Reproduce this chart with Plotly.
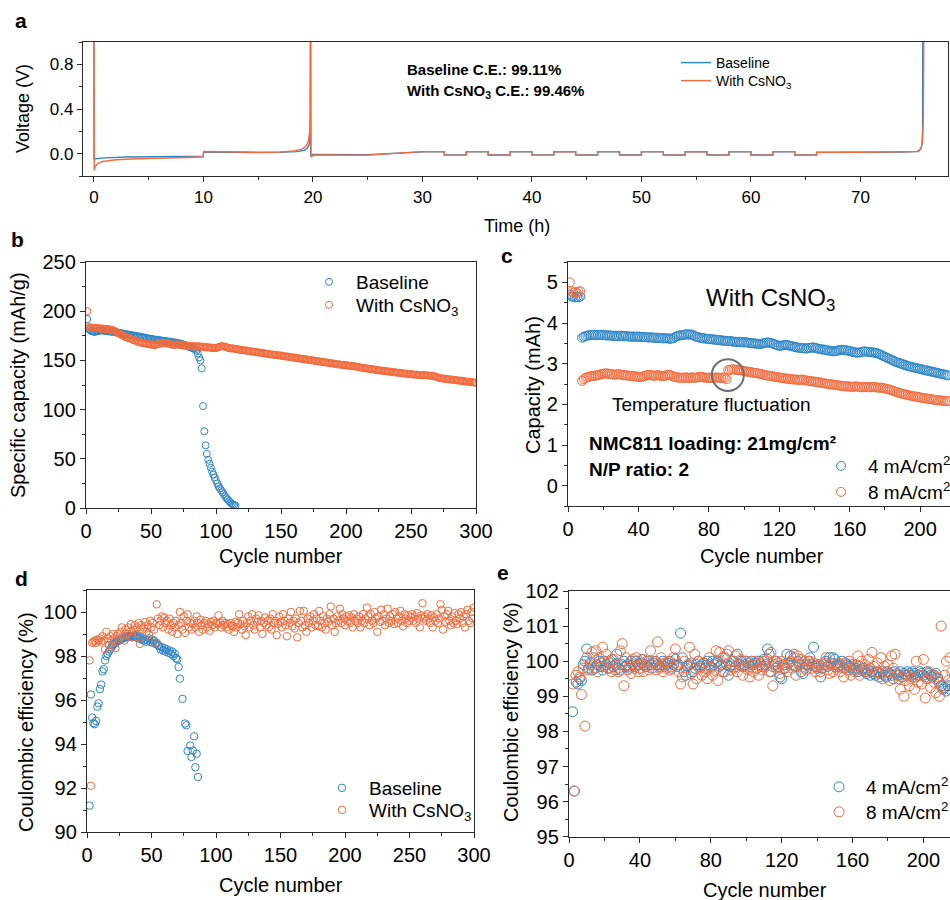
import plotly.graph_objects as go

W, H = 950, 900
BLUE = "#2d86c6"
ORANGE = "#f26b3d"
FONT = "Liberation Sans, Arial, Helvetica, sans-serif"

# ---------------- (a) voltage profiles (Li||Cu, Aurbach protocol) ----------------
base_head_t = [0.0, 0.02, 0.2, 1.0, 3.0, 6.0, 9.98, 10.02, 12.0, 15.0, 17.0, 18.5, 19.2, 19.5, 19.65, 19.72, 19.76, 19.78, 19.8, 20.0, 25.0]
base_head_v = [1.3, -0.05, -0.045, -0.038, -0.03, -0.025, -0.022, 0.015, 0.012, 0.010, 0.012, 0.018, 0.030, 0.050, 0.080, 0.12, 0.20, 1.3, -0.012, -0.008, -0.010]
cs_head_t = [0.0, 0.03, 0.1, 0.3, 0.8, 2.0, 4.0, 7.0, 9.98, 10.02, 12.0, 15.0, 17.0, 18.3, 19.0, 19.4, 19.6, 19.7, 19.75, 19.78, 19.82, 20.1, 25.0]
cs_head_v = [1.3, -0.15, -0.12, -0.09, -0.07, -0.055, -0.045, -0.035, -0.03, 0.020, 0.015, 0.012, 0.015, 0.025, 0.040, 0.070, 0.12, 0.20, 0.35, 1.3, -0.03, -0.012, -0.013]

step_edges = [30, 32, 34, 36, 38, 40, 42, 44, 46, 48, 50, 52, 54, 56, 58, 60, 62, 64, 66]
base_levels = [0.016, -0.011, 0.017, -0.012, 0.017, -0.011, 0.016, -0.012, 0.017,
               -0.012, 0.016, -0.011, 0.017, -0.012, 0.016, -0.012, 0.017, -0.012]
cs_levels = [0.018, -0.013, 0.018, -0.014, 0.018, -0.013, 0.017, -0.014, 0.018,
             -0.013, 0.018, -0.014, 0.017, -0.013, 0.018, -0.014, 0.018, -0.013]

base_tail_t = [66.0, 70.0, 74.0, 75.2, 75.5, 75.62, 75.68, 75.7]
base_tail_v = [0.012, 0.012, 0.015, 0.020, 0.040, 0.080, 0.20, 1.3]
cs_tail_t = [66.0, 70.0, 74.0, 75.3, 75.55, 75.68, 75.75, 75.8]
cs_tail_v = [0.013, 0.013, 0.015, 0.020, 0.050, 0.12, 0.30, 1.3]


def assemble(head_t, head_v, levels, tail_t, tail_v):
    t, v = list(head_t), list(head_v)
    for i, lv in enumerate(levels):
        t += [step_edges[i], step_edges[i + 1]]
        v += [lv, lv]
    return t + tail_t, v + tail_v


a_base_t, a_base_v = assemble(base_head_t, base_head_v, base_levels, base_tail_t, base_tail_v)
a_cs_t, a_cs_v = assemble(cs_head_t, cs_head_v, cs_levels, cs_tail_t, cs_tail_v)

# ---------------- (b) specific capacity vs cycle ----------------
b_base = [192, 182, 181, 180, 179.5, 179, 179, 179.5, 180, 180,
          180.5, 180.5, 180.5, 180, 180, 180, 179.5, 179.5, 179.5, 179,
          179, 179, 178.5, 178.5, 178, 178, 177.5, 177.5, 177, 177,
          176.5, 176.5, 176, 176, 175.5, 175.5, 175, 175, 174.5, 174.5,
          174, 174, 173.5, 173.5, 173, 173, 172.5, 172.5, 172, 172,
          171.5, 171.5, 171, 171, 171, 170.5, 170.5, 170, 170, 170,
          169.5, 169.5, 169, 169, 169, 168.5, 168.5, 168, 168, 168,
          167.5, 167, 167, 166.5, 166, 165.5, 165, 164.5, 164, 163.5,
          163, 162.5, 162, 161, 160, 157, 153, 150, 142,
          103.6, 78, 63.7, 55, 49, 45, 41, 37, 34, 31,
          28, 25, 22, 20, 18, 16, 14, 12, 10, 8.5,
          7, 5.5, 4.5, 3.5, 3, 2.5]
b_cs = [200,
        184, 183.5, 183, 183.5, 183, 183, 182.5, 183, 182.5, 182.5,
        182, 182.5, 182, 182, 181.5, 182, 181.5, 181, 181, 180.5,
        180, 179, 178, 177.5, 177, 176, 175.5, 175, 174, 173.5,
        173, 172.5, 172, 171.5, 171, 170.5, 170, 169.5, 169, 168.5,
        168, 168, 167.5, 167.5, 167, 167, 166.5, 166.5, 166, 166,
        166, 165.5, 166, 166.5, 167, 167.5, 167, 167.5, 168, 167.5,
        167, 167.5, 167, 166.5, 166, 166, 165.5, 166, 166.5, 166,
        166, 165.5, 165.5, 165, 165.5, 165, 165, 164.5, 165, 164.5,
        164.5, 164, 164.5, 164, 164, 164.5, 164, 163.5, 164, 163.5,
        163.5, 163, 163.5, 163, 163, 162.5, 163, 162.5, 162.5, 163,
        163.5, 164, 164.5, 164.5, 164, 164, 163.5, 163, 162.5, 162,
        162.5, 162, 162, 161.5, 161.5, 161, 161, 160.5, 160.5, 160.5,
        160, 160, 160, 159.5, 159.5, 159, 159, 159, 158.5, 158.5,
        158, 158, 158, 157.5, 157.5, 157, 157, 157, 156.5, 156.5,
        156, 156, 156, 155.5, 155.5, 155.5, 155, 155, 155, 154.5,
        154.5, 154, 154, 154, 153.5, 153.5, 153, 153, 153, 152.5,
        152.5, 152, 152, 152, 151.5, 151.5, 151, 151, 151, 150.5,
        150.5, 150, 150, 150, 149.5, 149.5, 149, 149, 149, 148.5,
        148.5, 148, 148, 148, 147.5, 147.5, 147, 147, 147, 146.5,
        146.5, 146, 146, 146, 145.5, 145.5, 145.5, 145, 145, 145,
        144.5, 144.5, 144.5, 144, 144, 144, 143.5, 143.5, 143, 143,
        142.5, 142.5, 142, 142, 142, 141.5, 141.5, 141, 141, 141,
        140.5, 140.5, 140, 140, 140, 139.5, 139.5, 139.5, 139, 139,
        139, 138.5, 138.5, 138.5, 138, 138, 138, 137.5, 137.5, 137.5,
        137, 137, 137, 136.5, 136.5, 136.5, 136, 136, 136, 136,
        135.5, 135.5, 135.5, 135.5, 135, 135, 135, 135, 135, 135,
        135, 134.5, 134.5, 134.5, 134.5, 134, 134, 133.5, 133, 132.5,
        132, 132, 131.5, 131.5, 131.5, 131, 131, 131, 130.5, 130.5,
        130.5, 130, 130, 130, 129.5, 129.5, 129.5, 129, 129, 129,
        128.5, 128.5, 128.5, 128, 128, 128, 127.5, 127.5, 127.5]

# ---------------- (c) high-loading capacity ----------------
c_4ma = [4.70, 4.65, 4.65, 4.63, 4.64, 4.63, 4.65,
         3.64, 3.66, 3.68, 3.69, 3.70, 3.70, 3.71, 3.71, 3.70, 3.71,
         3.70, 3.71, 3.70, 3.70, 3.69, 3.70, 3.69, 3.69, 3.68, 3.69,
         3.68, 3.68, 3.69, 3.68, 3.67, 3.68, 3.67, 3.67, 3.66, 3.67,
         3.66, 3.66, 3.67, 3.66, 3.65, 3.66, 3.65, 3.65, 3.64, 3.65,
         3.64, 3.64, 3.63, 3.64, 3.63, 3.63, 3.62, 3.63, 3.62, 3.62,
         3.61, 3.62, 3.63, 3.66, 3.68, 3.69, 3.70, 3.70, 3.71, 3.72,
         3.72, 3.71, 3.72, 3.70, 3.68, 3.66, 3.65, 3.64, 3.63, 3.62,
         3.62, 3.61, 3.61, 3.60, 3.60, 3.59, 3.59, 3.58, 3.58, 3.57,
         3.57, 3.56, 3.56, 3.55, 3.56, 3.55, 3.54, 3.54, 3.53, 3.54,
         3.53, 3.53, 3.52, 3.53, 3.52, 3.51, 3.51, 3.50, 3.50, 3.49,
         3.49, 3.48, 3.49, 3.50, 3.51, 3.52, 3.52, 3.51, 3.50, 3.48,
         3.47, 3.45, 3.44, 3.44, 3.45, 3.46, 3.46, 3.45, 3.44, 3.43,
         3.42, 3.41, 3.40, 3.39, 3.39, 3.38, 3.38, 3.37, 3.38, 3.39,
         3.39, 3.40, 3.39, 3.38, 3.37, 3.36, 3.35, 3.35, 3.34, 3.33,
         3.32, 3.32, 3.31, 3.30, 3.31, 3.32, 3.33, 3.34, 3.34, 3.33,
         3.33, 3.32, 3.31, 3.30, 3.29, 3.28, 3.27, 3.27, 3.28, 3.29,
         3.30, 3.30, 3.29, 3.29, 3.28, 3.28, 3.27, 3.26, 3.25, 3.23,
         3.21, 3.19, 3.17, 3.15, 3.13, 3.11, 3.09, 3.07, 3.05, 3.03,
         3.02, 3.00, 2.99, 2.97, 2.96, 2.94, 2.93, 2.92, 2.91, 2.90,
         2.89, 2.88, 2.87, 2.86, 2.85, 2.84, 2.83, 2.82, 2.81, 2.80,
         2.79, 2.78, 2.77, 2.76, 2.75, 2.74, 2.73, 2.72, 2.71]
c_8ma = [5.00, 4.78, 4.75, 4.76, 4.74, 4.77, 4.78,
         2.58, 2.62, 2.65, 2.67, 2.68, 2.69, 2.70, 2.70, 2.71, 2.72,
         2.73, 2.74, 2.75, 2.76, 2.76, 2.75, 2.74, 2.74, 2.73, 2.73,
         2.74, 2.74, 2.73, 2.72, 2.72, 2.71, 2.71, 2.70, 2.70, 2.69,
         2.69, 2.68, 2.68, 2.67, 2.68, 2.69, 2.70, 2.72, 2.73, 2.72,
         2.71, 2.70, 2.71, 2.72, 2.71, 2.70, 2.69, 2.70, 2.72, 2.73,
         2.72, 2.70, 2.68, 2.67, 2.66, 2.66, 2.65, 2.65, 2.66, 2.66,
         2.65, 2.65, 2.66, 2.66, 2.65, 2.66, 2.67, 2.68, 2.67, 2.66,
         2.66, 2.65, 2.65, 2.66, 2.65, 2.65, 2.66, 2.66, 2.65, 2.65,
         2.66, 2.65, 2.62, 2.84, 2.85, 2.86, 2.86, 2.85, 2.85, 2.84,
         2.84, 2.83, 2.82, 2.81, 2.80, 2.80, 2.79, 2.78, 2.77, 2.77,
         2.76, 2.75, 2.74, 2.73, 2.72, 2.71, 2.70, 2.70, 2.69, 2.68,
         2.67, 2.67, 2.66, 2.65, 2.65, 2.64, 2.63, 2.63, 2.62, 2.62,
         2.61, 2.61, 2.61, 2.60, 2.60, 2.61, 2.60, 2.59, 2.58, 2.58,
         2.57, 2.56, 2.56, 2.55, 2.54, 2.54, 2.53, 2.52, 2.51, 2.51,
         2.50, 2.49, 2.49, 2.48, 2.48, 2.47, 2.46, 2.46, 2.45, 2.45,
         2.44, 2.44, 2.44, 2.43, 2.43, 2.44, 2.44, 2.43, 2.42, 2.42,
         2.43, 2.43, 2.42, 2.42, 2.42, 2.43, 2.43, 2.42, 2.41, 2.41,
         2.41, 2.40, 2.39, 2.38, 2.37, 2.36, 2.34, 2.33, 2.31, 2.30,
         2.28, 2.27, 2.26, 2.25, 2.24, 2.23, 2.22, 2.21, 2.20, 2.19,
         2.19, 2.18, 2.17, 2.16, 2.15, 2.15, 2.14, 2.13, 2.13, 2.12,
         2.11, 2.11, 2.10, 2.10, 2.09, 2.09, 2.08, 2.08, 2.08]

# ---------------- (d) Coulombic efficiency, low loading ----------------
d_base = [91.2, 96.25, 95.2, 94.95, 94.9, 95.05, 95.7, 95.85, 96.5, 96.7,
          97.3, 97.4, 97.8, 98.0, 98.1, 98.2, 98.3, 98.4, 98.5, 98.55,
          98.6, 98.65, 98.7, 98.7, 98.75, 98.8, 98.8, 98.85, 98.85, 98.9,
          98.85, 98.9, 98.9, 98.85, 98.9, 98.95, 98.85, 98.9, 98.8, 98.85,
          98.75, 98.8, 98.7, 98.75, 98.65, 98.7, 98.8, 98.65, 98.75, 98.6,
          98.7, 98.55, 98.6, 98.5, 98.45, 98.3, 98.4, 98.25, 98.35, 98.2,
          98.3, 98.15, 98.25, 98.1, 98.2, 98.0, 98.1, 97.9, 97.85, 97.5,
          96.97, 96.05, 94.93, 94.85, 93.68, 93.93, 93.41, 93.7, 94.35, 92.94,
          93.56, 92.5]
d_base_cycles = list(range(2, 2 + 71)) + [74, 76, 77, 78, 80, 81, 82, 83, 84, 85, 86, 87, 88][:len(d_base) - 71]
d_cs = [97.8, 92.1, 98.6, 98.65, 98.7, 98.6, 98.75, 98.7, 98.8, 98.65,
        98.9, 98.7, 98.3, 99.1, 98.8, 98.5, 98.9, 98.7, 99.0, 98.8,
        98.35, 98.9, 99.0, 98.75, 99.1, 99.3, 98.9, 98.7, 99.2, 99.0,
        99.3, 99.1, 99.45, 98.85, 99.2, 99.4, 99.0, 99.3, 99.5, 98.55,
        99.4, 99.2, 99.3, 99.55, 99.1, 99.4, 98.95, 99.6, 99.3, 99.5,
        99.2, 98.6, 100.35, 99.7, 99.4, 99.6, 99.8, 99.3, 99.75, 99.5,
        99.6, 99.2, 99.7, 99.4, 99.1, 99.5, 99.3, 99.6, 99.0, 99.4,
        100.0, 99.5, 99.2, 99.8, 99.05, 99.6, 99.9, 99.3, 99.5, 99.2,
        99.45, 99.6, 99.3, 99.8, 99.5, 99.1, 99.65, 99.4, 99.2, 99.5,
        99.6, 99.3, 99.45, 99.15, 99.55, 99.4, 99.6, 99.3, 99.5, 99.45,
        99.85, 99.5, 99.3, 99.6, 99.4, 99.5, 99.3, 99.45, 99.2, 99.5,
        99.4, 99.35, 99.1, 99.55, 99.3, 99.5, 99.9, 99.45, 99.2, 99.6,
        99.35, 98.95, 99.5, 99.8, 99.3, 99.6, 99.9, 99.4, 99.2, 99.7,
        99.55, 99.85, 99.3, 99.6, 99.0, 99.5, 99.75, 99.4, 99.6, 99.3,
        99.7, 99.2, 99.9, 99.5, 99.6, 98.95, 99.45, 99.8, 99.55, 99.3,
        99.9, 99.6, 99.4, 98.9, 99.7, 99.5, 100.0, 99.35, 99.6, 99.25,
        99.7, 98.85, 99.5, 100.05, 99.6, 99.3, 100.05, 99.4, 99.1, 99.7,
        99.5, 99.8, 99.3, 99.6, 99.9, 99.4, 99.7, 99.35, 100.05, 99.6,
        99.3, 99.8, 99.5, 99.2, 99.7, 99.55, 99.9, 100.25, 99.4, 99.7,
        99.1, 99.5, 99.8, 99.6, 100.15, 99.5, 99.9, 99.7, 99.4, 99.8,
        99.6, 99.85, 99.5, 99.75, 99.3, 99.9, 99.6, 99.7, 99.5, 99.8,
        99.3, 99.6, 99.9, 99.5, 99.7, 100.2, 99.8, 99.4, 99.9, 99.6,
        99.5, 100.0, 99.7, 99.1, 99.8, 99.55, 100.1, 99.6, 99.9, 99.4,
        99.7, 100.15, 99.5, 99.8, 99.6, 99.9, 99.45, 100.0, 99.7, 99.5,
        99.8, 100.05, 99.6, 99.35, 99.9, 99.7, 99.5, 99.85, 99.6, 99.75,
        99.9, 99.6, 99.8, 99.5, 99.95, 99.7, 99.3, 99.85, 100.4, 99.7,
        99.8, 99.6, 99.9, 99.7, 99.5, 99.85, 99.3, 99.75, 99.6, 99.9,
        99.5, 99.7, 100.35, 100.1, 99.2, 99.8, 99.55, 99.9, 100.05, 99.6,
        99.4, 99.8, 99.5, 99.95, 99.6, 99.45, 99.9, 99.7, 100.0, 99.5,
        99.8, 99.3, 99.9, 100.1, 99.6, 99.5, 100.0, 99.7, 100.2]

# ---------------- (e) Coulombic efficiency, high loading ----------------
e_4ma = [98.56, 96.3, 99.4, 99.35, 99.5, 99.45, 99.9, 100.0, 100.35, 99.8,
         99.95, 99.75, 100.1, 99.8, 99.9, 100.0, 99.85, 99.75, 100.0, 99.9,
         99.8, 99.95, 100.05, 99.85, 99.9, 100.2, 99.8, 99.75, 99.9, 100.0,
         99.85, 99.9, 99.8, 100.0, 99.9, 99.85, 100.0, 99.9, 99.8, 99.95,
         100.05, 99.9, 99.85, 100.0, 99.9, 99.8, 99.95, 100.0, 99.9, 99.85,
         99.9, 100.0, 99.85, 99.9, 99.95, 100.0, 99.8, 99.9, 100.05, 99.85,
         99.9, 100.8, 100.1, 99.7, 99.6, 99.85, 99.9, 99.95, 99.7, 99.8,
         99.9, 100.0, 99.85, 99.9, 99.95, 99.8, 100.0, 99.9, 99.85, 100.0,
         99.9, 99.95, 100.0, 99.85, 99.9, 99.7, 100.1, 99.9, 99.6, 99.85,
         99.9, 100.0, 99.85, 100.2, 99.9, 100.0, 99.85, 99.9, 100.0, 99.95,
         99.85, 100.0, 99.9, 99.95, 99.8, 100.0, 99.9, 99.85, 100.05, 99.9,
         100.35, 100.2, 99.7, 99.85, 99.9, 100.0, 99.85, 99.55, 99.5, 99.9,
         99.8, 100.2, 99.95, 100.15, 99.9, 100.1, 99.85, 100.0, 99.9, 99.7,
         99.65, 99.8, 99.9, 100.0, 100.1, 99.9, 100.4, 99.85, 99.8, 99.9,
         99.55, 99.8, 99.9, 100.0, 99.85, 100.1, 99.95, 100.1, 100.05, 99.9,
         99.85, 99.9, 100.0, 99.8, 99.95, 99.9, 99.85, 99.8, 99.9, 99.75,
         99.8, 99.7, 99.85, 99.75, 99.8, 99.7, 99.65, 99.75, 99.6, 99.7,
         99.65, 99.6, 99.7, 99.55, 99.65, 99.7, 99.6, 99.55, 99.7, 99.65,
         99.6, 99.5, 99.7, 99.65, 99.6, 99.7, 99.55, 99.65, 99.6, 99.7,
         99.65, 99.6, 99.7, 99.65, 99.55, 99.6, 99.7, 99.65, 99.6, 99.55,
         99.7, 99.65, 99.6, 99.55, 99.6, 99.65, 99.5, 99.4, 99.3, 99.2,
         99.25, 99.15, 99.3, 99.2, 99.3]
e_8ma = [99.35, 96.3, 99.6, 99.7, 99.55, 99.05, 99.8, 98.15, 100.1, 99.75,
         99.9, 100.25, 99.8, 100.3, 99.7, 100.1, 99.95, 100.4, 99.85, 100.2,
         100.0, 99.8, 99.7, 100.05, 99.75, 99.9, 99.7, 100.3, 100.5, 99.3,
         100.1, 99.75, 99.85, 99.65, 100.05, 99.8, 100.1, 99.7, 99.9, 100.05,
         99.7, 99.85, 100.0, 99.75, 100.3, 99.9, 100.0, 99.75, 100.55, 99.8,
         100.1, 99.7, 99.95, 99.8, 100.0, 99.75, 99.85, 100.1, 100.35, 99.9,
         99.7, 99.35, 99.55, 100.0, 99.8, 99.9, 100.4, 99.65, 99.35, 100.2,
         99.5, 100.0, 99.8, 99.6, 99.95, 99.7, 99.5, 100.1, 99.8, 99.6,
         99.75, 100.3, 99.45, 100.25, 99.9, 100.1, 99.7, 100.2, 100.3, 99.75,
         100.0, 99.8, 100.15, 99.7, 99.9, 100.05, 99.6, 99.85, 100.0, 99.75,
         99.55, 99.9, 99.7, 100.0, 99.8, 99.6, 99.95, 99.75, 100.0, 99.85,
         100.05, 99.7, 100.25, 99.3, 100.0, 99.8, 99.95, 99.65, 100.0, 99.8,
         99.9, 99.7, 99.95, 100.0, 99.8, 100.2, 99.6, 100.15, 99.9, 100.05,
         99.85, 100.0, 99.75, 99.9, 100.0, 99.8, 99.95, 99.7, 99.85, 99.9,
         99.7, 99.8, 99.95, 100.1, 99.75, 99.65, 99.9, 99.7, 99.85, 99.8,
         99.95, 99.7, 99.85, 99.55, 99.9, 99.75, 100.0, 99.6, 99.85, 99.7,
         99.9, 100.15, 99.6, 100.0, 99.75, 99.9, 99.7, 100.05, 99.8, 100.25,
         99.85, 99.7, 99.95, 99.65, 100.1, 99.5, 99.85, 99.7, 99.9, 99.45,
         100.15, 99.8, 100.2, 99.6, 99.5, 99.2, 99.55, 99.0, 99.45, 99.6,
         99.3, 99.5, 99.55, 99.2, 100.0, 99.4, 99.6, 99.35, 100.05, 98.95,
         99.5, 99.7, 99.25, 99.6, 99.4, 99.1, 99.55, 99.0, 101.0, 99.3,
         99.6, 100.0, 99.45, 100.1, 99.7]

# gray ring marking the temperature excursion in (c)
ring_center = (90.8, 2.72)
ring_radius = (9.1, 0.39)


def px(x):
    return x / W


def py(y):
    return 1 - y / H


fig = go.Figure()


def markers_trace(x, y, name, color, size, xa, ya, legend, width=1.0):
    return go.Scatter(x=x, y=y, mode="markers", name=name, legend=legend,
                      xaxis=xa, yaxis=ya,
                      marker=dict(symbol="circle-open", size=size, color=color,
                                  line=dict(width=width, color=color)))


# (a)
fig.add_trace(go.Scatter(x=a_base_t, y=a_base_v, mode="lines", name="Baseline",
                         line=dict(color=BLUE, width=1.4), xaxis="x", yaxis="y", legend="legend"))
fig.add_trace(go.Scatter(x=a_cs_t, y=a_cs_v, mode="lines", name="With CsNO<sub>3</sub>",
                         line=dict(color=ORANGE, width=1.4), xaxis="x", yaxis="y", legend="legend2"))

# (b)
fig.add_trace(markers_trace(list(range(1, len(b_base) + 1)), b_base, "Baseline", BLUE, 7, "x2", "y2", "legend3"))
fig.add_trace(markers_trace(list(range(1, len(b_cs) + 1)), b_cs, "With CsNO<sub>3</sub>", ORANGE, 7, "x2", "y2", "legend4"))

# (c)
fig.add_trace(markers_trace(list(range(1, len(c_4ma) + 1)), c_4ma, "4 mA/cm<sup>2</sup>", BLUE, 9, "x3", "y3", "legend5"))
fig.add_trace(markers_trace(list(range(1, len(c_8ma) + 1)), c_8ma, "8 mA/cm<sup>2</sup>", ORANGE, 9, "x3", "y3", "legend6"))

# (d)
fig.add_trace(markers_trace(d_base_cycles, d_base, "Baseline", BLUE, 7.5, "x4", "y4", "legend7"))
fig.add_trace(markers_trace(list(range(2, len(d_cs) + 2)), d_cs, "With CsNO<sub>3</sub>", ORANGE, 7.5, "x4", "y4", "legend8"))

# (e)
fig.add_trace(markers_trace(list(range(2, len(e_4ma) + 2)), e_4ma, "4 mA/cm<sup>2</sup>", BLUE, 10, "x5", "y5", "legend9"))
fig.add_trace(markers_trace(list(range(2, len(e_8ma) + 2)), e_8ma, "8 mA/cm<sup>2</sup>", ORANGE, 10, "x5", "y5", "legend10"))

AX_LINE = "#2a2a2a"


def xaxis(domain, rng, dtick, minor, anchor, fsize=20, mirror=True):
    return dict(domain=domain, range=rng, dtick=dtick, tick0=0, anchor=anchor,
                showline=True, linecolor=AX_LINE, linewidth=1.3, mirror=mirror,
                ticks="outside", ticklen=5, tickwidth=1.2, tickcolor=AX_LINE,
                minor=dict(ticks="outside", ticklen=3, tickwidth=1, dtick=minor, tickcolor=AX_LINE),
                showgrid=False, zeroline=False, automargin=False,
                tickfont=dict(family=FONT, size=fsize, color="black"))


def yaxis(domain, rng, dtick, minor, anchor, fsize=20, mirror=True, fmt=None, tick0=0):
    d = xaxis(domain, rng, dtick, minor, anchor, fsize, mirror)
    d["tick0"] = tick0
    if fmt:
        d["tickformat"] = fmt
    return d


layout = dict(
    width=W, height=H, margin=dict(l=0, r=0, t=0, b=0, pad=0, autoexpand=False),
    paper_bgcolor="white", plot_bgcolor="white",
    font=dict(family=FONT, color="black"),
    xaxis=xaxis([px(83), px(948)], [-1, 78], 10, 5, "y", fsize=17),
    yaxis=yaxis([py(176), py(42)], [-0.2, 1.0], 0.4, 0.2, "x", fsize=17, fmt=".1f"),
    xaxis2=xaxis([px(86), px(476)], [0, 300], 50, 25, "y2"),
    yaxis2=yaxis([py(508), py(262)], [0, 250], 50, 25, "x2"),
    xaxis3=xaxis([px(568), 1.0], [0, 217], 40, 20, "y3"),
    yaxis3=yaxis([py(506), py(262)], [-0.5, 5.5], 1, 0.5, "x3", mirror=False),
    xaxis4=xaxis([px(87), px(474)], [0, 300], 50, 25, "y4"),
    yaxis4=yaxis([py(832), py(590)], [90, 101], 2, 1, "x4"),
    xaxis5=xaxis([px(569), 1.0], [0, 215], 40, 20, "y5"),
    yaxis5=yaxis([py(836.7), py(591)], [95, 102], 1, 0.5, "x5", mirror=False),
    showlegend=True,
)


def legend_row(x, y, size, itemwidth=30):
    # one entry per legend, vertically centred on y
    return dict(x=px(x), y=py(y), xanchor="left", yanchor="middle", bgcolor="rgba(0,0,0,0)",
                borderwidth=0, font=dict(family=FONT, size=size, color="black"),
                itemwidth=itemwidth, tracegroupgap=0)


layout["legend"] = legend_row(676, 63, 14)
layout["legend2"] = legend_row(676, 81, 14)
layout["legend3"] = legend_row(302, 282, 19, itemwidth=44)
layout["legend4"] = legend_row(302, 305, 19, itemwidth=44)
layout["legend5"] = legend_row(814, 466, 19, itemwidth=44)
layout["legend6"] = legend_row(814, 492, 19, itemwidth=44)
layout["legend7"] = legend_row(315, 788, 19, itemwidth=44)
layout["legend8"] = legend_row(315, 810, 19, itemwidth=44)
layout["legend9"] = legend_row(812, 787, 19, itemwidth=44)
layout["legend10"] = legend_row(812, 812, 19, itemwidth=44)

ann = []


def text(x, y, s, size, bold=False, xanchor="left", angle=0):
    if bold:
        s = "<b>" + s + "</b>"
    ann.append(dict(x=px(x), y=py(y), xref="paper", yref="paper", text=s, showarrow=False,
                    xanchor=xanchor, yanchor="middle", textangle=angle,
                    font=dict(family=FONT, size=size, color="black")))


# panel letters
text(21, 21, "a", 21, bold=True, xanchor="center")
text(17, 239, "b", 21, bold=True, xanchor="center")
text(507, 255, "c", 21, bold=True, xanchor="center")
text(21, 578, "d", 21, bold=True, xanchor="center")
text(503, 572, "e", 21, bold=True, xanchor="center")

# axis titles
text(23, 109, "Voltage (V)", 18, xanchor="center", angle=-90)
text(517, 226, "Time (h)", 18, xanchor="center")
text(18, 385, "Specific capacity (mAh/g)", 20, xanchor="center", angle=-90)
text(281, 556, "Cycle number", 20, xanchor="center")
text(533, 385, "Capacity (mAh)", 20, xanchor="center", angle=-90)
text(762, 556, "Cycle number", 20, xanchor="center")
text(26, 722, "Coulombic efficiency (%)", 20, xanchor="center", angle=-90)
text(281, 885, "Cycle number", 20, xanchor="center")
text(511, 712, "Coulombic efficiency (%)", 20, xanchor="center", angle=-90)
text(765, 890, "Cycle number", 20, xanchor="center")

# in-plot notes
text(405, 70, "Baseline C.E.: 99.11%", 15, bold=True)
text(405, 91, "With CsNO<sub>3</sub> C.E.: 99.46%", 15, bold=True)
text(770, 300, "With CsNO<sub>3</sub>", 24, xanchor="center")
text(610, 405, "Temperature fluctuation", 19)
text(587, 443, "NMC811 loading: 21mg/cm²", 19, bold=True)
text(587, 469, "N/P ratio: 2", 19, bold=True)

layout["annotations"] = ann
layout["shapes"] = [dict(type="circle", xref="x3", yref="y3",
                         x0=ring_center[0] - ring_radius[0], x1=ring_center[0] + ring_radius[0],
                         y0=ring_center[1] - ring_radius[1], y1=ring_center[1] + ring_radius[1],
                         line=dict(color="#6e6e6e", width=2))]

fig.update_layout(**layout)
fig.write_html("out.html")
